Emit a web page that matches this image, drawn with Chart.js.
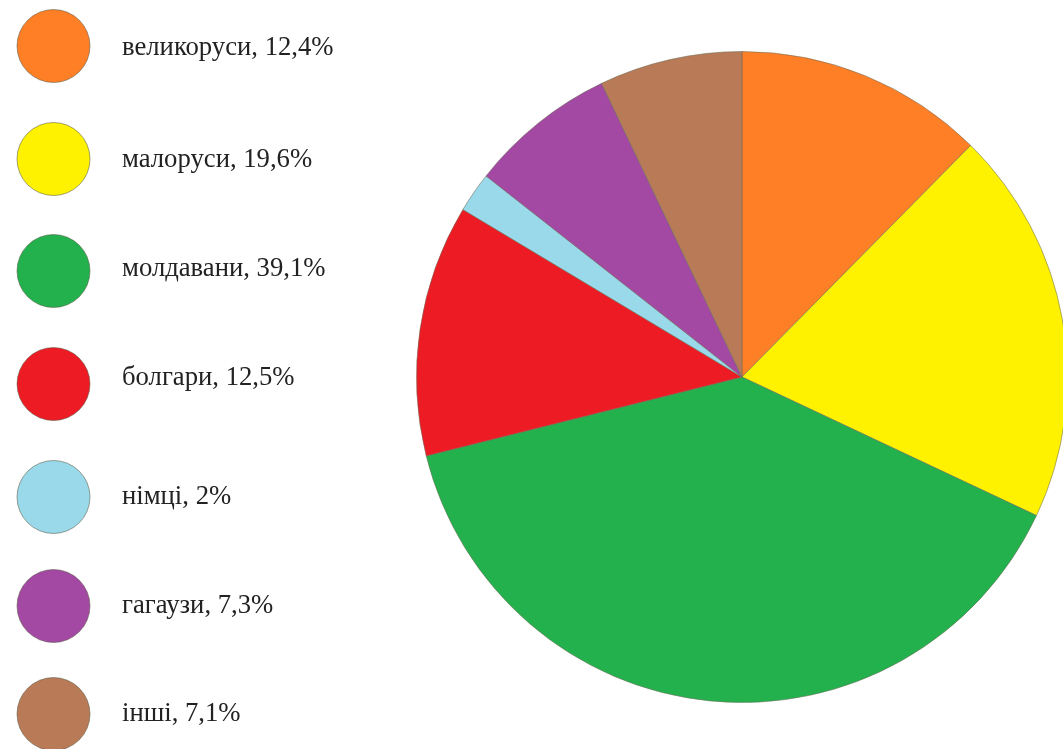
<!DOCTYPE html>
<html>
<head>
<meta charset="utf-8">
<script src="https://cdn.jsdelivr.net/npm/chart.js@4/dist/chart.umd.min.js"></script>
<style>
  html, body { margin: 0; padding: 0; background: #fff; overflow: hidden; width: 1063px; height: 749px; }
  #c { position: absolute; left: 0; top: 0; }
</style>
</head>
<body>
<canvas id="c" width="1070" height="749"></canvas>
<script>
const categories = ['великоруси', 'малоруси', 'молдавани', 'болгари', 'німці', 'гагаузи', 'інші'];
const shares = [12.4, 19.6, 39.1, 12.5, 2, 7.3, 7.1];
const sliceColors = ['#FF7F27', '#FFF200', '#22B14C', '#ED1C24', '#99D9EA', '#A349A4', '#B97A57'];

const legendLabels = categories.map((c, i) => c + ', ' + String(shares[i]).replace('.', ',') + '%');

// layout of the hand-placed legend (pixels)
const markerCenters = [46, 159, 271, 384, 497, 606, 714];
const textBaselines = [55, 167, 276, 385, 504, 613, 721];

const sideLegend = {
  id: 'sideLegend',
  afterDraw(chart) {
    const ctx = chart.ctx;
    ctx.save();
    const cx = 53.5, r = 36.5;
    legendLabels.forEach((txt, i) => {
      const y = markerCenters[i];
      ctx.beginPath();
      ctx.arc(cx, y, r, 0, Math.PI * 2);
      ctx.fillStyle = sliceColors[i];
      ctx.fill();
      ctx.lineWidth = 1;
      ctx.strokeStyle = 'rgba(90,90,70,0.55)';
      ctx.stroke();
      ctx.fillStyle = '#222';
      ctx.font = '26.7px "Liberation Serif", "Times New Roman", serif';
      ctx.textBaseline = 'alphabetic';
      ctx.textAlign = 'left';
      ctx.fillText(txt, 122, textBaselines[i]);
    });
    ctx.restore();
  }
};

new Chart(document.getElementById('c'), {
  type: 'pie',
  data: {
    labels: categories,
    datasets: [{
      data: shares,
      backgroundColor: sliceColors,
      borderColor: 'rgba(110,110,90,0.55)',
      borderWidth: 1,
      hoverOffset: 0
    }]
  },
  options: {
    responsive: false,
    animation: false,
    events: [],
    layout: { padding: { left: 416, right: 2, top: 51, bottom: 46 } },
    plugins: {
      legend: { display: false },
      tooltip: { enabled: false },
      title: { display: false }
    }
  },
  plugins: [sideLegend]
});
</script>
</body>
</html>
